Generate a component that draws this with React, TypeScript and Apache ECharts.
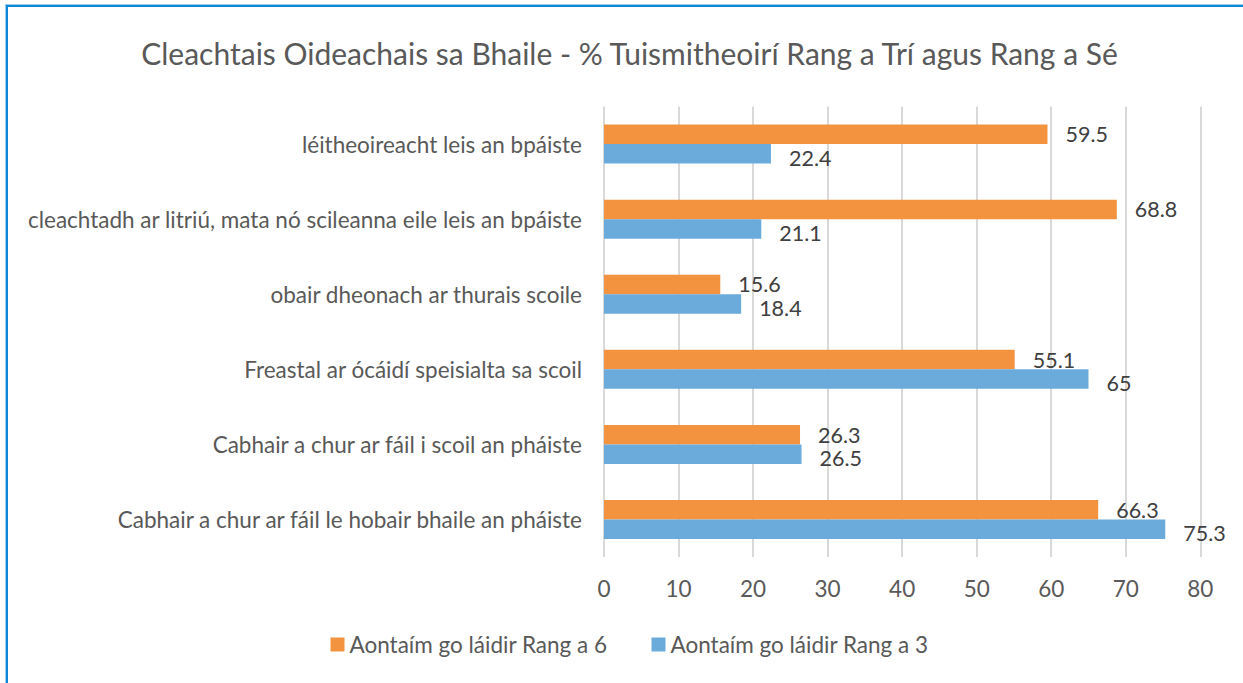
import React, { useEffect, useRef } from "react";
import * as echarts from "echarts";

const titleText = "Cleachtais Oideachais sa Bhaile - % Tuismitheoirí Rang a Trí agus Rang a Sé";
const categories = [
  "léitheoireacht leis an bpáiste",
  "cleachtadh ar litriú, mata nó scileanna eile leis an bpáiste",
  "obair dheonach ar thurais scoile",
  "Freastal ar ócáidí speisialta sa scoil",
  "Cabhair a chur ar fáil i scoil an pháiste",
  "Cabhair a chur ar fáil le hobair bhaile an pháiste",
];
const seriesNames = ["Aontaím go láidir Rang a 6", "Aontaím go láidir Rang a 3"];
const rang6 = [59.5, 68.8, 15.6, 55.1, 26.3, 66.3];
const rang3 = [22.4, 21.1, 18.4, 65, 26.5, 75.3];
const xTicks = { min: 0, max: 80, interval: 10 };

const FONT = "Lato";
const ORANGE = "#F39340";
const BLUE = "#6AABDB";
const FS = 22.5;

export default function App() {
  const ref = useRef<HTMLDivElement>(null);
  useEffect(() => {
    if (!ref.current) return;
    const chart = echarts.init(ref.current, undefined, { renderer: "svg" });
    const label = (dy: number) => ({
      show: true,
      position: "right",
      distance: 18,
      offset: [0, dy],
      fontFamily: FONT,
      fontSize: 21.5,
      lineHeight: 19,
      color: "#404040",
    });
    chart.setOption({
      animation: false,
      backgroundColor: "#ffffff",
      textStyle: { fontFamily: FONT },
      title: {
        text: titleText,
        left: "center",
        top: 33,
        padding: 0,
        textStyle: { fontFamily: FONT, fontSize: 30, fontWeight: "normal", color: "#595959" },
      },
      legend: {
        data: seriesNames,
        left: "center",
        top: 628,
        padding: 0,
        itemWidth: 14,
        itemHeight: 14,
        itemGap: 44,
        icon: "rect",
        textStyle: { fontFamily: FONT, fontSize: FS, color: "#595959" },
      },
      grid: { left: 598, right: 52.7, top: 101.5, bottom: 126 },
      xAxis: {
        type: "value",
        min: xTicks.min,
        max: xTicks.max,
        interval: xTicks.interval,
        axisLine: { show: false },
        axisTick: { show: false },
        axisLabel: { fontFamily: FONT, fontSize: FS, color: "#595959", margin: 20 },
        splitLine: { show: true, lineStyle: { color: "#D9D9D9", width: 2 } },
      },
      yAxis: {
        type: "category",
        data: categories,
        inverse: true,
        axisLine: { show: false },
        axisTick: { show: false },
        axisLabel: { fontFamily: FONT, fontSize: FS, color: "#595959", margin: 22 },
      },
      series: [
        {
          name: seriesNames[0],
          type: "bar",
          data: rang6,
          barWidth: 19.5,
          barGap: "0%",
          itemStyle: { color: ORANGE },
          label: label(0),
        },
        {
          name: seriesNames[1],
          type: "bar",
          data: rang3,
          barWidth: 19.5,
          barGap: "0%",
          itemStyle: { color: BLUE },
          label: label(4),
        },
      ],
    });
    return () => chart.dispose();
  }, []);
  return (
    <div style={{ position: "fixed", left: 0, top: 0, width: 1243, height: 683, overflow: "hidden", background: "#fff" }}>
      <div ref={ref} style={{ position: "absolute", left: 6, top: 5, width: 1247, height: 678 }} />
      <div
        style={{
          position: "absolute",
          left: 6,
          top: 5,
          width: 1300,
          height: 700,
          borderTop: "2px solid #0B86D8",
          borderLeft: "2px solid #0B86D8",
          boxShadow: "-1px -1px 0 #9CCDEE",
          pointerEvents: "none",
        }}
      />
    </div>
  );
}
